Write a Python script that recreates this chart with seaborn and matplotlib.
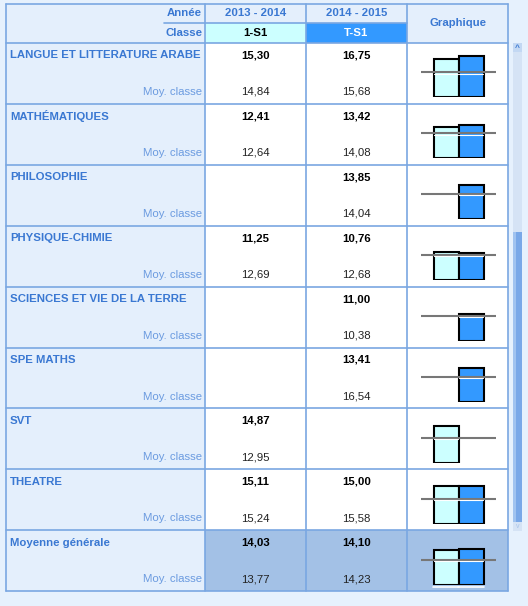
import numpy as np
import pandas as pd
import seaborn as sns
import matplotlib
matplotlib.use("Agg")
import matplotlib.pyplot as plt
from matplotlib.patches import Rectangle

annees = ["2013 - 2014", "2014 - 2015"]
classes = ["1-S1", "T-S1"]
matieres = ["LANGUE ET LITTERATURE ARABE", "MATHÉMATIQUES", "PHILOSOPHIE",
            "PHYSIQUE-CHIMIE", "SCIENCES ET VIE DE LA TERRE", "SPE MATHS",
            "SVT", "THEATRE", "Moyenne générale"]
notes_2013 = [15.30, 12.41, np.nan, 11.25, np.nan, np.nan, 14.87, 15.11, 14.03]
notes_2014 = [16.75, 13.42, 13.85, 10.76, 11.00, 13.41, np.nan, 15.00, 14.10]
moy_2013 = [14.84, 12.64, np.nan, 12.69, np.nan, np.nan, 12.95, 15.24, 13.77]
moy_2014 = [15.68, 14.08, 14.04, 12.68, 10.38, 16.54, np.nan, 15.58, 14.23]
seuil = 10

sns.set_style("white")
plt.rcParams["font.family"] = ["Liberation Sans", "DejaVu Sans"]

W, H = 528, 606
fig = plt.figure(figsize=(W / 100, H / 100), dpi=100)
fig.patch.set_facecolor("#e6f1fd")
ax = fig.add_axes([0, 0, 1, 1])
ax.set_xlim(0, W)
ax.set_ylim(H, 0)
ax.axis("off")

bord = "#7aa7e2"
fond = "#e4effc"
cyan = "#ccffff"
bleu = "#3399ff"
moy_fond = "#a3c1e6"
txt_bleu = "#3a78d2"
txt_moy = "#6b9be0"

xs = [5.5, 205, 306, 407, 508]
y_top, y_mid, y_head = 3.5, 22.5, 43
row_h = 60.9
fs = 8.2

def fmt(v):
    return "" if np.isnan(v) else f"{v:.2f}".replace(".", ",")

# en-tete
ax.add_patch(Rectangle((xs[0], y_top), xs[4] - xs[0], y_head - y_top, fc=fond, ec="none"))
ax.add_patch(Rectangle((xs[1], y_mid), xs[2] - xs[1], y_head - y_mid, fc=cyan, ec="none"))
ax.add_patch(Rectangle((xs[2], y_mid), xs[3] - xs[2], y_head - y_mid, fc=bleu, ec="none"))
ax.text(202, 13.5, "Année", ha="right", va="center", fontsize=fs, fontweight="bold", color=txt_bleu)
ax.text(202, 33, "Classe", ha="right", va="center", fontsize=fs, fontweight="bold", color=txt_bleu)
for j in range(2):
    cx = (xs[j + 1] + xs[j + 2]) / 2
    ax.text(cx, 13.5, annees[j], ha="center", va="center", fontsize=fs, fontweight="bold", color=txt_bleu)
    ax.text(cx, 33, classes[j], ha="center", va="center", fontsize=fs, fontweight="bold",
            color="black" if j == 0 else "white")
ax.text((xs[3] + xs[4]) / 2, 23.5, "Graphique", ha="center", va="center", fontsize=fs,
        fontweight="bold", color=txt_bleu)

# lignes du tableau
n = len(matieres)
for i in range(n):
    t = y_head + i * row_h
    b = t + row_h
    derniere = i == n - 1
    ax.add_patch(Rectangle((xs[0], t), xs[1] - xs[0], row_h, fc=fond, ec="none"))
    ax.add_patch(Rectangle((xs[1], t), xs[4] - xs[1], row_h, fc=moy_fond if derniere else "white", ec="none"))
    ax.text(10, t + 12.5, matieres[i], ha="left", va="center", fontsize=fs, fontweight="bold", color=txt_bleu)
    ax.text(202, t + 49, "Moy. classe", ha="right", va="center", fontsize=fs, color=txt_moy)
    for j, (nv, mv) in enumerate([(notes_2013[i], moy_2013[i]), (notes_2014[i], moy_2014[i])]):
        cx = (xs[j + 1] + xs[j + 2]) / 2
        ax.text(cx, t + 12.5, fmt(nv), ha="center", va="center", fontsize=fs, fontweight="bold", color="black")
        ax.text(cx, t + 49, fmt(mv), ha="center", va="center", fontsize=fs, color="#222222")

    # petit graphique
    bas = b - 6.5
    haut = t + 3
    iax = fig.add_axes([421 / W, (H - bas) / H, 75 / W, (bas - haut) / H])
    iax.set_facecolor("none")
    df = pd.DataFrame({"annee": annees, "note": [notes_2013[i], notes_2014[i]]}).dropna()
    sns.barplot(data=df, x="annee", y="note", hue="annee", order=annees, hue_order=annees,
                palette={annees[0]: cyan, annees[1]: bleu}, saturation=1, edgecolor="black",
                linewidth=1.5, width=1, errorbar=None, legend=False, ax=iax)
    iax.axhline(seuil, color="#777777", lw=1.5, zorder=5)
    for k, v in enumerate([notes_2013[i], notes_2014[i]]):
        if not np.isnan(v):
            iax.plot([k - 0.47, k + 0.47], [seuil - 0.5, seuil - 0.5], color="white", lw=0.8, zorder=5)
            if derniere:
                iax.plot([k - 0.53, k + 0.53], [-0.9, -0.9], color="white", lw=1.2, clip_on=False)
    iax.set_xlim(-1, 2)
    iax.set_ylim(0, (bas - haut) / 2.5)
    iax.axis("off")

y_bot = y_head + n * row_h
for x in xs:
    ax.plot([x, x], [y_top, y_bot], color=bord, lw=1.2)
ax.plot([xs[0], xs[4]], [y_top, y_top], color=bord, lw=1.2)
ax.plot([164, xs[3]], [y_mid, y_mid], color=bord, lw=1.2)
for i in range(n + 1):
    y = y_head + i * row_h
    ax.plot([xs[0], xs[4]], [y, y], color=bord, lw=1.2)

# barre de defilement
ax.add_patch(Rectangle((513, 52), 9, 470, fc="#d5e3f5", ec="none"))
ax.add_patch(Rectangle((513, 43), 9, 9, fc="#c3d8f3", ec="none"))
ax.add_patch(Rectangle((513, 522), 9, 9, fc="#d5e3f5", ec="none"))
ax.add_patch(Rectangle((513, 232), 9, 290, fc="#79a8e8", ec="none"))
ax.add_patch(Rectangle((513, 232), 2.5, 290, fc="#a0c3f0", ec="none"))
ax.text(517.5, 48.5, "^", ha="center", va="center", fontsize=6, fontweight="bold", color="#3a78d2")
ax.text(517.5, 526, "v", ha="center", va="center", fontsize=5, color="#a8c4ea")

fig.savefig("out.png", dpi=100, facecolor=fig.get_facecolor())
